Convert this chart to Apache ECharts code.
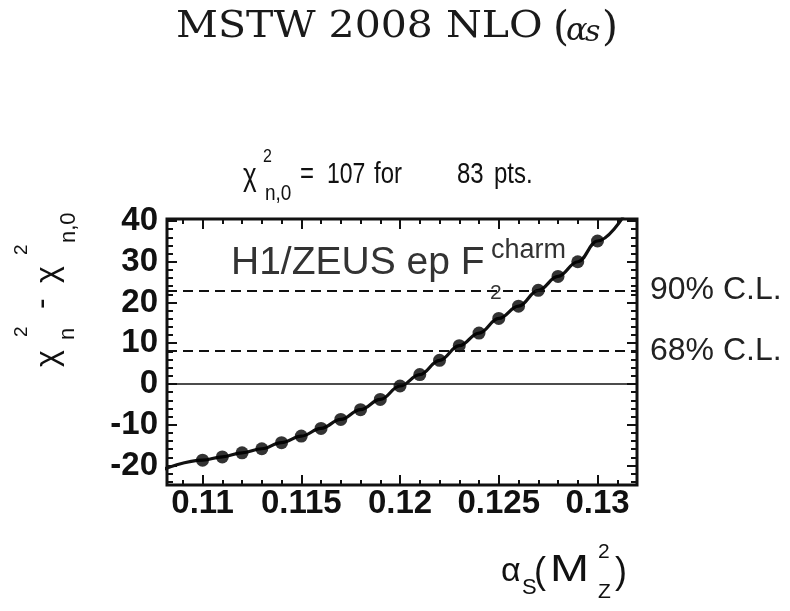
<!DOCTYPE html>
<html>
<head>
<meta charset="utf-8">
<script src="https://cdn.jsdelivr.net/npm/echarts@6/dist/echarts.min.js"></script>
<style>
  html, body { margin: 0; padding: 0; background: #ffffff; }
  #chart { width: 790px; height: 611px; }
</style>
</head>
<body>
<div id="chart"></div>
<script>
// alpha_S(M_Z^2) scan points and the chi^2 change of the charm data set
const alphaS = [0.110, 0.111, 0.112, 0.113, 0.114, 0.115, 0.116, 0.117, 0.118, 0.119, 0.120,
                0.121, 0.122, 0.123, 0.124, 0.125, 0.126, 0.127, 0.128, 0.129, 0.130];
const deltaChi2 = [-18.7, -17.9, -16.9, -15.9, -14.4, -12.8, -10.9, -8.7, -6.3, -3.8, -0.5,
                   2.3, 5.8, 9.4, 12.5, 16.1, 19.1, 23.0, 26.4, 30.0, 35.1];

// fitted curve: the scan points plus its ends at the frame edges
const fitStart = [0.1080, -21.0];
const fitEnd = [0.1313, 41.0];

// confidence-level thresholds
const clValues = [23.0, 8.1];
const clLabels = ['90% C.L.', '68% C.L.'];

// axis ranges and tick positions
const xRange = [0.1082, 0.1320];
const yRange = [-24.8, 40.5];
const xMajorTicks = [0.110, 0.115, 0.120, 0.125, 0.130];
const xMinorTicks = [0.109, 0.110, 0.111, 0.112, 0.113, 0.114, 0.115, 0.116, 0.117, 0.118, 0.119,
                     0.120, 0.121, 0.122, 0.123, 0.124, 0.125, 0.126, 0.127, 0.128, 0.129, 0.130, 0.131];
const yMajorTicks = [-20, -10, 0, 10, 20, 30, 40];
const yMinorTicks = [-24, -22, -20, -18, -16, -14, -12, -10, -8, -6, -4, -2, 0, 2, 4, 6, 8, 10,
                     12, 14, 16, 18, 20, 22, 24, 26, 28, 30, 32, 34, 36, 38, 40];

const SANS = '"Liberation Sans", Arial, sans-serif';
const SERIF = '"DejaVu Serif", "Liberation Serif", serif';
const INK = '#111111';

const scanPoints = alphaS.map((a, i) => [a, deltaChi2[i]]);
const fitPoints = [fitStart].concat(scanPoints, [fitEnd]);

function xAxisDef(position, ticks, len, withLabels) {
  return {
    type: 'value', gridIndex: 0, position: position,
    min: xRange[0], max: xRange[1],
    axisLine: { show: false, onZero: false },
    splitLine: { show: false },
    axisTick: { show: true, inside: true, length: len, customValues: ticks,
                lineStyle: { color: INK, width: 2 } },
    axisLabel: withLabels ? {
      show: true, customValues: xMajorTicks, margin: 2,
      fontFamily: SANS, fontSize: 33, fontWeight: 'bold', color: INK,
      formatter: v => String(+(+v).toFixed(3))
    } : { show: false }
  };
}
function yAxisDef(position, ticks, len, withLabels) {
  return {
    type: 'value', gridIndex: 0, position: position,
    min: yRange[0], max: yRange[1],
    axisLine: { show: false, onZero: false },
    splitLine: { show: false },
    axisTick: { show: true, inside: true, length: len, customValues: ticks,
                lineStyle: { color: INK, width: 2 } },
    axisLabel: withLabels ? {
      show: true, customValues: yMajorTicks, margin: 9,
      fontFamily: SANS, fontSize: 33, fontWeight: 'bold', color: INK,
      formatter: v => String(Math.round(v))
    } : { show: false }
  };
}

// a left-aligned text piece centred vertically on y
function txt(x, y, text, size, opts) {
  opts = opts || {};
  return {
    type: 'text', x: x, y: y, silent: true,
    scaleX: opts.sx || 1, scaleY: opts.sy || 1,
    style: {
      text: text, font: opts.font || (size + 'px ' + SANS), fill: opts.fill || INK,
      align: 'left', verticalAlign: 'middle',
      textAlign: 'left', textVerticalAlign: 'middle'
    }
  };
}

const chart = echarts.init(document.getElementById('chart'), null, { renderer: 'canvas' });

chart.setOption({
  animation: false,
  backgroundColor: '#ffffff',
  grid: {
    left: 167, right: 153, top: 219, bottom: 126,
    show: true, borderColor: INK, borderWidth: 3, backgroundColor: 'transparent'
  },
  xAxis: [
    xAxisDef('bottom', xMajorTicks, 10, true),
    xAxisDef('bottom', xMinorTicks, 5, false),
    xAxisDef('top', xMajorTicks, 10, false),
    xAxisDef('top', xMinorTicks, 5, false)
  ],
  yAxis: [
    yAxisDef('left', yMajorTicks, 10, true),
    yAxisDef('left', yMinorTicks, 6, false),
    yAxisDef('right', yMajorTicks, 10, false),
    yAxisDef('right', yMinorTicks, 6, false)
  ],
  series: [
    {
      name: 'reference lines', type: 'line', data: [], xAxisIndex: 0, yAxisIndex: 0,
      markLine: {
        silent: true, symbol: 'none', animation: false,
        data: [
          { yAxis: 0, lineStyle: { type: 'solid', width: 1.6, color: INK }, label: { show: false } }
        ].concat(clValues.map((v, i) => ({
          yAxis: v,
          lineStyle: { type: [10, 6], width: 2, color: INK },
          label: { show: true, position: 'end', distance: 13, formatter: clLabels[i],
                   fontFamily: SANS, fontSize: 32, color: '#222222' }
        })))
      }
    },
    {
      name: 'fit', type: 'line', data: fitPoints, xAxisIndex: 0, yAxisIndex: 0,
      smooth: 0.4, smoothMonotone: 'x', showSymbol: false, clip: true, z: 3,
      lineStyle: { color: INK, width: 3.2 }
    },
    {
      name: 'scan', type: 'scatter', data: scanPoints, xAxisIndex: 0, yAxisIndex: 0,
      symbol: 'circle', symbolSize: 13, z: 4,
      itemStyle: { color: '#000000' }
    }
  ],
  graphic: [
    // title
    txt(176, 27, 'MSTW 2008 NLO', 41, { font: '41px ' + SERIF, fill: '#1a1a1a', sy: 0.9 }),
    txt(553, 29, '(', 41, { font: '41px ' + SERIF, fill: '#1a1a1a' }),
    txt(566, 32, 'α', 32, { font: 'italic 32px ' + SERIF, fill: '#1a1a1a' }),
    txt(585, 33, 's', 30, { font: 'italic 30px ' + SERIF, fill: '#1a1a1a' }),
    txt(602, 29, ')', 41, { font: '41px ' + SERIF, fill: '#1a1a1a' }),

    // reference chi^2 above the frame
    txt(243, 176, 'χ', 26, { sy: 1.2 }),
    txt(263, 157, '2', 16, { sy: 1.2 }),
    txt(265, 194, 'n,0', 19, { sy: 1.2 }),
    txt(300, 175, '=', 24, { sy: 1.2 }),
    txt(327, 175, '107', 23, { sy: 1.25 }),
    txt(374, 175, 'for', 24, { sy: 1.2 }),
    txt(457, 175, '83', 24, { sy: 1.2 }),
    txt(494, 175, 'pts.', 24, { sy: 1.2 }),

    // data set label inside the frame
    txt(231, 263, 'H1/ZEUS ep F', 39, { fill: '#333333' }),
    txt(491, 251, 'charm', 27, { fill: '#333333' }),
    txt(490, 293, '2', 21, { fill: '#333333' }),

    // x-axis title: alpha_S(M_Z^2)
    txt(501, 572, 'α', 34),
    txt(522, 588, 'S', 22),
    txt(534, 573, '(', 36),
    txt(550, 571, 'M', 36, { sx: 1.3 }),
    txt(598, 552, '2', 21),
    txt(598, 592, 'Z', 21),
    txt(615, 573, ')', 36),

    // y-axis title: chi^2_n - chi^2_n,0, reading upwards
    {
      type: 'group', x: 48, y: 367, rotation: Math.PI / 2, silent: true,
      children: [
        txt(0, 0, 'χ', 32),
        txt(30, -26, '2', 19),
        txt(27, 20, 'n', 22),
        txt(58, -6, '-', 32),
        txt(84, 0, 'χ', 32),
        txt(112, -26, '2', 19),
        txt(124, 21, 'n,0', 22)
      ]
    }
  ]
});
</script>
</body>
</html>
